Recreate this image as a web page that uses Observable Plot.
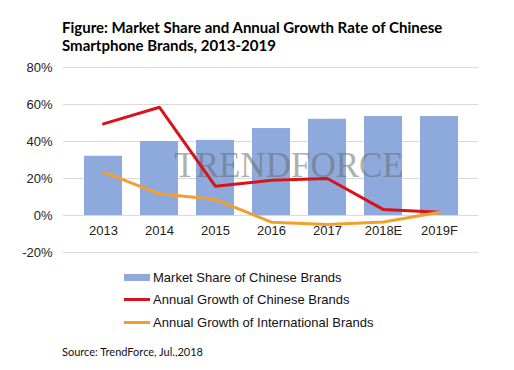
<!DOCTYPE html>
<html>
<head>
<meta charset="utf-8">
<script src="https://cdn.jsdelivr.net/npm/d3@7"></script>
<script src="https://cdn.jsdelivr.net/npm/@observablehq/plot@0.6"></script>
<style>
  html, body { margin: 0; padding: 0; background: #fff; }
  body { width: 514px; height: 370px; overflow: hidden; font-family: "Liberation Sans", Arial, sans-serif; }
  #title { font-family: Lato, "Open Sans", sans-serif; font-weight: 700; font-size: 15px; line-height: 18px; color: #000; padding: 18px 0 0 62px; height: 36px; box-sizing: content-box; }
  #chart svg { display: block; }
  #legend { padding: 6px 0 0 124px; font-size: 13px; color: #111; }
  .row { display: flex; align-items: center; height: 22.5px; }
  .sw { width: 26px; margin-right: 3px; }
  #source { font-family: Lato, sans-serif; font-size: 11px; color: #111; padding: 11px 0 0 62px; }
</style>
</head>
<body>
<div id="title">Figure: Market Share and Annual Growth Rate of Chinese<br>Smartphone Brands, 2013-2019</div>
<div id="chart"></div>
<div id="legend"></div>
<div id="source">Source: TrendForce, Jul.,2018</div>
<script>
const years = ["2013", "2014", "2015", "2016", "2017", "2018E", "2019F"];
const marketShare = [32, 40, 40.6, 47, 52, 53.5, 53.5];
const growthChinese = [49.5, 58.5, 15.8, 19, 20, 3.2, 1.8];
const growthIntl = [23.4, 11.7, 8.6, -3.6, -4.9, -3.5, 1.8];
const yTicks = [-20, 0, 20, 40, 60, 80];
const seriesNames = ["Market Share of Chinese Brands", "Annual Growth of Chinese Brands", "Annual Growth of International Brands"];
const colors = ["#8eaadc", "#d7141a", "#f0a030"];

const bars = years.map((y, i) => ({year: y, value: marketShare[i]}));
const redLine = years.map((y, i) => ({year: y, value: growthChinese[i]}));
const orangeLine = years.map((y, i) => ({year: y, value: growthIntl[i]}));

const chart = Plot.plot({
  width: 514,
  height: 206,
  marginTop: 13,
  marginBottom: 8,
  marginLeft: 63,
  marginRight: 36,
  style: {fontFamily: "'Liberation Sans', Arial, sans-serif", fontSize: "13px", color: "#333"},
  x: {domain: years, padding: 0.33, axis: null},
  y: {domain: [-20, 80], ticks: yTicks, tickFormat: d => d + "%", label: null, tickSize: 0, tickPadding: 11},
  marks: [
    Plot.ruleY(yTicks, {stroke: "#d9d9d9", strokeWidth: 1}),
    Plot.barY(bars, {x: "year", y: "value", fill: colors[0]}),
    Plot.text(["TRENDFORCE"], {frameAnchor: "middle", dx: 18, dy: 6, text: d => d, fontFamily: "'Liberation Serif', serif", fontSize: 35, fill: "#6a6a6a", fillOpacity: 0.55}),
    Plot.line(redLine, {x: "year", y: "value", stroke: colors[1], strokeWidth: 3}),
    Plot.line(orangeLine, {x: "year", y: "value", stroke: colors[2], strokeWidth: 3}),
    Plot.text(years, {x: d => d, y: 0, dy: 15, text: d => d, fill: "#222", fontSize: 13}),
    Plot.axisY({ticks: yTicks, tickFormat: d => d + "%", tickSize: 0, tickPadding: 11, fill: "#222", fontSize: 13})
  ]
});
document.getElementById("chart").appendChild(chart);

const legend = document.getElementById("legend");
seriesNames.forEach((name, i) => {
  const row = document.createElement("div");
  row.className = "row";
  const sw = document.createElement("div");
  sw.className = "sw";
  sw.style.height = i === 0 ? "7px" : "3px";
  sw.style.background = colors[i];
  const label = document.createElement("span");
  label.textContent = name;
  row.appendChild(sw);
  row.appendChild(label);
  legend.appendChild(row);
});
</script>
</body>
</html>
